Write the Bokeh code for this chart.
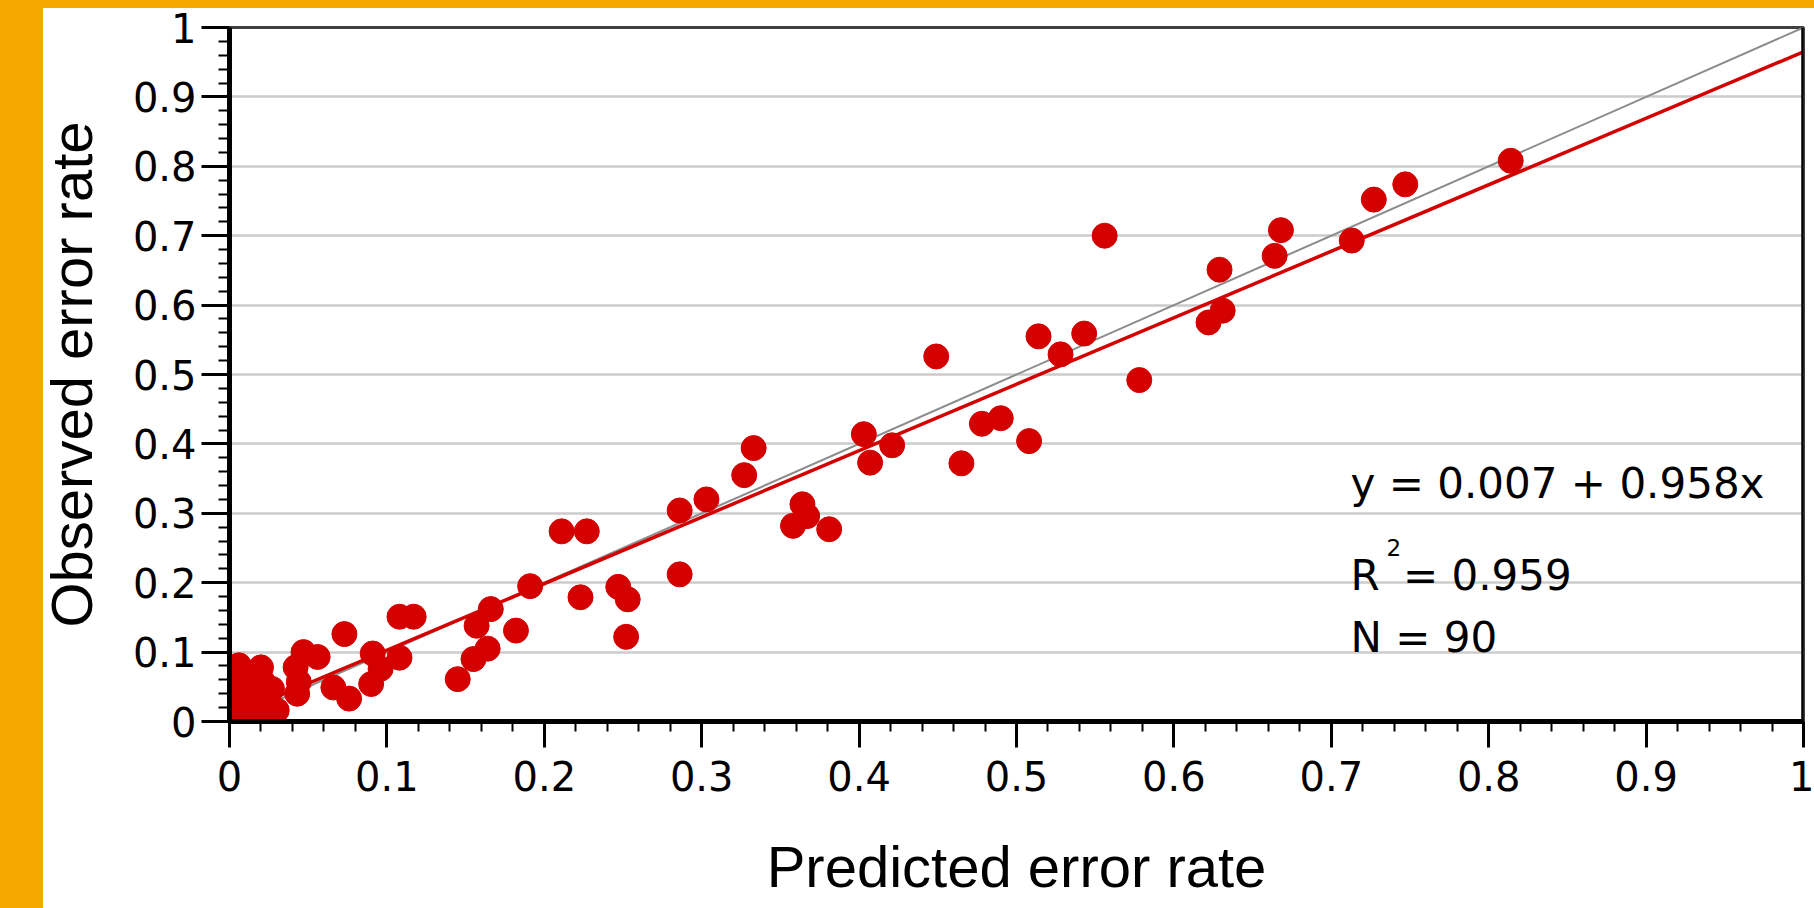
from bokeh.plotting import figure
from bokeh.models import Range1d, FixedTicker, Span, Label, GlobalInlineStyleSheet
from bokeh.embed import file_html
from bokeh.resources import INLINE

# ---- data ----
predicted = [
    0.814, 0.747, 0.727, 0.713,
    0.556, 0.668, 0.664, 0.629, 0.631, 0.622, 0.543, 0.514, 0.528, 0.449, 0.578,
    0.478, 0.490, 0.508, 0.465,
    0.403, 0.421, 0.407, 0.333, 0.327, 0.303, 0.286, 0.364, 0.367, 0.358, 0.381,
    0.211, 0.227, 0.286, 0.191, 0.223, 0.247, 0.253, 0.252,
    0.108, 0.117, 0.073, 0.047, 0.056, 0.091, 0.108, 0.096, 0.090, 0.066, 0.076,
    0.042, 0.044, 0.043, 0.145, 0.157, 0.166, 0.164, 0.155, 0.182,
    0.006, 0.020, 0.001, 0.000, 0.027, 0.030, 0.019, 0.000, 0.004, 0.013, 0.009,
    0.002, 0.003, 0.005, 0.007, 0.010, 0.012, 0.015, 0.017, 0.008, 0.022, 0.024,
    0.011, 0.016, 0.004, 0.002, 0.014, 0.021, 0.006, 0.009, 0.001, 0.025,
]
observed = [
    0.808, 0.774, 0.752, 0.693,
    0.700, 0.708, 0.671, 0.651, 0.592, 0.575, 0.559, 0.555, 0.529, 0.526, 0.492,
    0.429, 0.437, 0.404, 0.372,
    0.414, 0.398, 0.373, 0.394, 0.355, 0.320, 0.304, 0.313, 0.296, 0.282, 0.277,
    0.274, 0.274, 0.212, 0.195, 0.179, 0.194, 0.176, 0.122,
    0.151, 0.151, 0.126, 0.100, 0.093, 0.098, 0.092, 0.076, 0.054, 0.049, 0.033,
    0.078, 0.057, 0.040, 0.061, 0.138, 0.162, 0.105, 0.090, 0.131,
    0.081, 0.078, 0.064, 0.042, 0.047, 0.016, 0.018, 0.016, 0.000, 0.040, 0.059,
    0.005, 0.010, 0.020, 0.030, 0.012, 0.025, 0.055, 0.065, 0.070, 0.035, 0.028,
    0.048, 0.008, 0.036, 0.026, 0.070, 0.058, 0.052, 0.004, 0.002, 0.040,
]
fit_intercept = 0.007
fit_slope = 0.958
line_x = [0.0, 1.0]
tick_values = [0, 0.1, 0.2, 0.3, 0.4, 0.5, 0.6, 0.7, 0.8, 0.9, 1]
tick_labels = ["0", "0.1", "0.2", "0.3", "0.4", "0.5", "0.6", "0.7", "0.8", "0.9", "1"]
x_title = "Predicted error rate"
y_title = "Observed error rate"
eq_text = "y = 0.007 + 0.958x"
r2_text = "= 0.959"
n_text = "N = 90"

RED = "#D40000"
ORANGE = "#F5A800"

minor = [round(i * 0.02, 2) for i in range(51) if i % 5]

page_css = GlobalInlineStyleSheet(css=(
    "html { background: "
    f"linear-gradient({ORANGE},{ORANGE}) 0 0 / 100% 8px no-repeat, "
    f"linear-gradient({ORANGE},{ORANGE}) 0 0 / 43px 100% no-repeat, #ffffff; }}"
))

p = figure(width=1814, height=908, x_range=Range1d(0, 1), y_range=Range1d(0, 1),
           output_backend="svg", toolbar_location=None,
           min_border_left=229, min_border_right=11, min_border_top=27, min_border_bottom=187,
           border_fill_color=None, background_fill_color="white")
p.stylesheets = [page_css]

p.outline_line_color = "#404040"
p.outline_line_width = 3
p.xgrid.visible = False
p.ygrid.grid_line_color = "#CCCCCC"
p.ygrid.grid_line_width = 2.5

overrides = {v: s for v, s in zip(tick_values, tick_labels)}

axes = ((p.xaxis[0], x_title, 26, 10, 13, 40), (p.yaxis[0], y_title, 28, 11, 5, 26))
for ax, title, tout, mout, lstand, tstand in axes:
    ax.ticker = FixedTicker(ticks=tick_values, minor_ticks=minor)
    ax.major_label_overrides = overrides
    ax.axis_line_color = "black"
    ax.axis_line_width = 5
    ax.major_tick_out = tout
    ax.major_tick_in = 0
    ax.major_tick_line_width = 3
    ax.major_tick_line_color = "black"
    ax.minor_tick_out = mout
    ax.minor_tick_in = 0
    ax.minor_tick_line_width = 2
    ax.minor_tick_line_color = "black"
    ax.major_label_text_font = "DejaVu Sans"
    ax.major_label_text_font_size = "40px"
    ax.major_label_text_color = "black"
    ax.major_label_standoff = lstand
    ax.axis_label = title
    ax.axis_label_text_font = "Liberation Sans"
    ax.axis_label_text_font_size = "58px"
    ax.axis_label_text_font_style = "normal"
    ax.axis_label_text_color = "black"
    ax.axis_label_standoff = tstand

p.add_layout(Span(location=1, dimension="height", line_color="black", line_width=4.5))

# identity line and fitted line
p.line(line_x, line_x, line_color="#8C8C8C", line_width=2)
p.line(line_x, [fit_intercept + fit_slope * v for v in line_x], line_color=RED, line_width=3.5)

p.scatter(predicted, observed, size=25, fill_color=RED, line_color=RED, line_width=1)

font = "DejaVu Sans"
p.add_layout(Label(x=0.7122, y=0.3425, text=eq_text, text_font=font, text_font_size="42px",
                   text_color="black", text_baseline="alphabetic"))
p.add_layout(Label(x=0.7122, y=0.2104, text="R", text_font=font, text_font_size="42px",
                   text_color="black", text_baseline="alphabetic"))
p.add_layout(Label(x=0.735, y=0.251, text="2", text_font=font, text_font_size="23px",
                   text_color="black", text_baseline="alphabetic"))
p.add_layout(Label(x=0.7455, y=0.2104, text=r2_text, text_font=font, text_font_size="42px",
                   text_color="black", text_baseline="alphabetic"))
p.add_layout(Label(x=0.7122, y=0.1215, text=n_text, text_font=font, text_font_size="42px",
                   text_color="black", text_baseline="alphabetic"))

open("out.html", "w").write(file_html(p, INLINE))
